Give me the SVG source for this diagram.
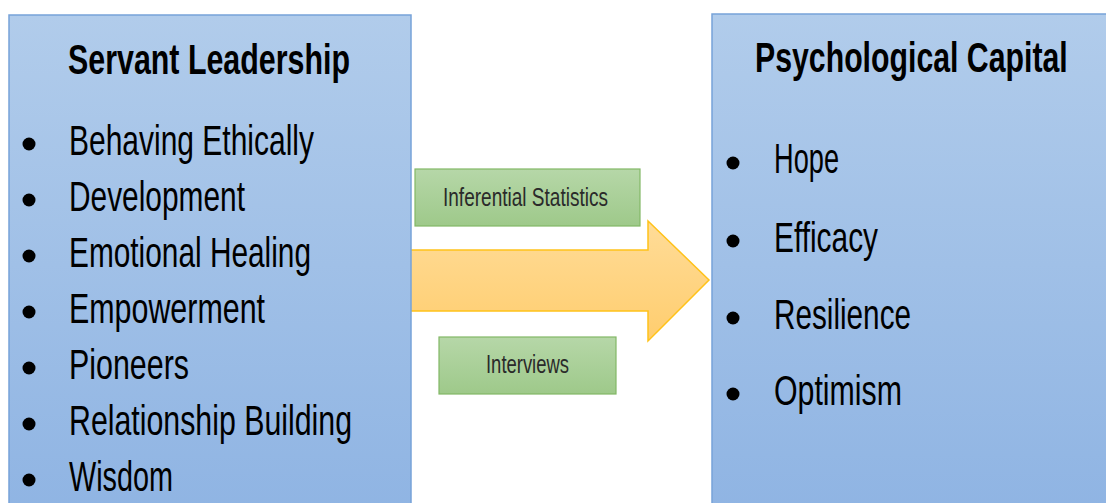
<svg xmlns="http://www.w3.org/2000/svg" width="1106" height="503" viewBox="0 0 1106 503">
  <defs>
    <linearGradient id="blueFill" x1="0" y1="0" x2="0" y2="1">
      <stop offset="0" stop-color="#b1cceb"/>
      <stop offset="1" stop-color="#8fb4e3"/>
    </linearGradient>
    <linearGradient id="greenFill" x1="0" y1="0" x2="0" y2="1">
      <stop offset="0" stop-color="#b6d7a8"/>
      <stop offset="1" stop-color="#9ec98a"/>
    </linearGradient>
    <linearGradient id="arrowFill" x1="0" y1="0" x2="0" y2="1">
      <stop offset="0" stop-color="#ffdc98"/>
      <stop offset="1" stop-color="#ffcd6e"/>
    </linearGradient>
    <style>
      .panel { fill: url(#blueFill); stroke: #77a3d9; stroke-width: 1.5; }
      .method { fill: url(#greenFill); stroke: #82b866; stroke-width: 1.2; }
      .flow { fill: url(#arrowFill); stroke: #ffc21a; stroke-width: 1.5; stroke-linejoin: miter; }
      .title { font-family: "Liberation Sans Narrow", "Liberation Sans", "DejaVu Sans Condensed", sans-serif; font-weight: bold; font-size: 43px; fill: #000; }
      .item { font-family: "Liberation Sans Narrow", "Liberation Sans", "DejaVu Sans Condensed", sans-serif; font-size: 43px; fill: #000; }
      .label { font-family: "Liberation Sans Narrow", "Liberation Sans", "DejaVu Sans Condensed", sans-serif; font-size: 25px; fill: #2a2a2a; }
      .dot { fill: #000; }
    </style>
  </defs>

  <rect width="1106" height="503" fill="#ffffff"/>

  <!-- block arrow linking the two constructs -->
  <g id="connectors">
    <path class="flow" d="M400,250 H648 V221 L709,280 L648,341 V311 H400 Z"/>
  </g>

  <!-- left panel: servant leadership dimensions -->
  <g id="servant-leadership">
    <rect class="panel" x="9" y="15" width="402" height="500"/>
    <text class="title" transform="translate(68,74) scale(0.75,1)" x="0" y="0" textLength="376" lengthAdjust="spacingAndGlyphs">Servant Leadership</text>
    <g>
      <circle class="dot" cx="29" cy="144" r="6.5"/>
      <text class="item" x="69" y="155" textLength="245" lengthAdjust="spacingAndGlyphs">Behaving Ethically</text>
      <circle class="dot" cx="29" cy="200" r="6.5"/>
      <text class="item" x="69" y="211" textLength="176" lengthAdjust="spacingAndGlyphs">Development</text>
      <circle class="dot" cx="29" cy="256" r="6.5"/>
      <text class="item" x="69" y="267" textLength="242" lengthAdjust="spacingAndGlyphs">Emotional Healing</text>
      <circle class="dot" cx="29" cy="312" r="6.5"/>
      <text class="item" x="69" y="323" textLength="196" lengthAdjust="spacingAndGlyphs">Empowerment</text>
      <circle class="dot" cx="29" cy="368" r="6.5"/>
      <text class="item" x="69" y="379" textLength="120" lengthAdjust="spacingAndGlyphs">Pioneers</text>
      <circle class="dot" cx="29" cy="424" r="6.5"/>
      <text class="item" x="69" y="435" textLength="283" lengthAdjust="spacingAndGlyphs">Relationship Building</text>
      <circle class="dot" cx="29" cy="480" r="6.5"/>
      <text class="item" x="69" y="491" textLength="104" lengthAdjust="spacingAndGlyphs">Wisdom</text>
    </g>
  </g>

  <!-- right panel: psychological capital components -->
  <g id="psychological-capital">
    <rect class="panel" x="712" y="14" width="400" height="500"/>
    <text class="title" transform="translate(755,72) scale(0.75,1)" x="0" y="0" textLength="417" lengthAdjust="spacingAndGlyphs">Psychological Capital</text>
    <g>
      <circle class="dot" cx="733" cy="163" r="6.5"/>
      <text class="item" x="774" y="173" textLength="65" lengthAdjust="spacingAndGlyphs">Hope</text>
      <circle class="dot" cx="733" cy="241" r="6.5"/>
      <text class="item" x="774" y="252" textLength="104" lengthAdjust="spacingAndGlyphs">Efficacy</text>
      <circle class="dot" cx="733" cy="318" r="6.5"/>
      <text class="item" x="774" y="329" textLength="137" lengthAdjust="spacingAndGlyphs">Resilience</text>
      <circle class="dot" cx="733" cy="394" r="6.5"/>
      <text class="item" x="774" y="405" textLength="128" lengthAdjust="spacingAndGlyphs">Optimism</text>
    </g>
  </g>

  <!-- method boxes above and below the arrow -->
  <g id="inferential-statistics">
    <rect class="method" x="415" y="169" width="225" height="57"/>
    <text class="label" x="443" y="206" textLength="165" lengthAdjust="spacingAndGlyphs">Inferential Statistics</text>
  </g>
  <g id="interviews">
    <rect class="method" x="439" y="337" width="177" height="57"/>
    <text class="label" x="486" y="373" textLength="83" lengthAdjust="spacingAndGlyphs">Interviews</text>
  </g>
</svg>
